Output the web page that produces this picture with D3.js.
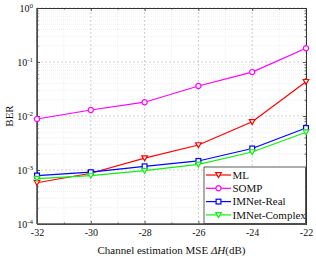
<!DOCTYPE html>
<html><head><meta charset="utf-8">
<script src="https://cdn.jsdelivr.net/npm/d3@7"></script>
<style>body{margin:0;background:#fff}svg{display:block}text{font-family:"Liberation Serif","Times New Roman",serif}</style>
</head><body><svg id="c" width="316" height="258"></svg>
<script>
const xValues = [-32, -30, -28, -26, -24, -22];
const ml = [5.8e-4, 8.7e-4, 1.66e-3, 2.9e-3, 7.8e-3, 4.3e-2];
const somp = [8.8e-3, 1.29e-2, 1.8e-2, 3.6e-2, 6.5e-2, 0.18];
const imnetReal = [7.9e-4, 9.1e-4, 1.17e-3, 1.47e-3, 2.5e-3, 6.0e-3];
const imnetComplex = [6.9e-4, 7.9e-4, 9.7e-4, 1.27e-3, 2.15e-3, 5.0e-3];
const seriesNames = ["ML", "SOMP", "IMNet-Real", "IMNet-Complex"];
const seriesColors = ["#ff0000", "#ff00ff", "#0000ff", "#11ee11"];
const seriesMarkers = ["tri", "circle", "square", "tri"];
const xTicks = [-32, -30, -28, -26, -24, -22];
const yExps = [-4, -3, -2, -1, 0];

const svg = d3.select("#c");
const L = 37, R = 306, T = 8, B = 224;
const x = d3.scaleLinear().domain([-32, -22]).range([L, R]);
const y = d3.scaleLog().domain([1e-4, 1]).range([B, T]);

// minor grid
const minorY = [];
yExps.slice(0, -1).forEach(e => { for (let k = 2; k <= 9; k++) minorY.push(k * Math.pow(10, e)); });
const minorX = [-31, -29, -27, -25, -23];
const g = svg.append("g");
g.selectAll(".mgy").data(minorY).join("line").attr("x1", L).attr("x2", R)
  .attr("y1", d => y(d)).attr("y2", d => y(d)).attr("stroke", "#e4e4e4").attr("stroke-width", 0.6).attr("stroke-dasharray", "1,1");
g.selectAll(".mgx").data(minorX).join("line").attr("y1", T).attr("y2", B)
  .attr("x1", d => x(d)).attr("x2", d => x(d)).attr("stroke", "#e4e4e4").attr("stroke-width", 0.6).attr("stroke-dasharray", "1,1");
// major grid
g.selectAll(".gy").data(yExps).join("line").attr("x1", L).attr("x2", R)
  .attr("y1", d => y(Math.pow(10, d))).attr("y2", d => y(Math.pow(10, d))).attr("stroke", "#bbb").attr("stroke-width", 0.7).attr("stroke-dasharray", "2,2");
g.selectAll(".gx").data(xTicks).join("line").attr("y1", T).attr("y2", B)
  .attr("x1", d => x(d)).attr("x2", d => x(d)).attr("stroke", "#bbb").attr("stroke-width", 0.7).attr("stroke-dasharray", "2,2");

// axes with inward ticks
const axCol = "#333";
const ax = svg.append("g");
const xb = d3.axisBottom(x).tickValues(xTicks).tickSize(-3).tickFormat(d => d);
const xt = d3.axisTop(x).tickValues(xTicks).tickSize(-3).tickFormat("");
const yl = d3.axisLeft(y).tickValues(yExps.map(e => Math.pow(10, e))).tickSize(-3).tickFormat("");
const yr = d3.axisRight(y).tickValues(yExps.map(e => Math.pow(10, e))).tickSize(-3).tickFormat("");
ax.append("g").attr("transform", `translate(0,${B})`).call(xb);
ax.append("g").attr("transform", `translate(0,${T})`).call(xt);
ax.append("g").attr("transform", `translate(${L},0)`).call(yl);
ax.append("g").attr("transform", `translate(${R},0)`).call(yr);
// minor ticks
ax.append("g").attr("transform", `translate(${L},0)`).call(d3.axisLeft(y).tickValues(minorY).tickSize(-1.5).tickFormat(""));
ax.append("g").attr("transform", `translate(${R},0)`).call(d3.axisRight(y).tickValues(minorY).tickSize(-1.5).tickFormat(""));
ax.append("g").attr("transform", `translate(0,${B})`).call(d3.axisBottom(x).tickValues(minorX).tickSize(-1.5).tickFormat(""));
ax.append("g").attr("transform", `translate(0,${T})`).call(d3.axisTop(x).tickValues(minorX).tickSize(-1.5).tickFormat(""));
ax.selectAll("path.domain").attr("stroke", axCol).attr("stroke-width", 1);
ax.selectAll(".tick line").attr("stroke", axCol).attr("stroke-width", 0.8);
ax.selectAll(".tick text").attr("font-family", "Liberation Serif").attr("font-size", 10).attr("fill", "#111").attr("dy", "0.9em");
// thicker left & bottom
svg.append("line").attr("x1", L).attr("x2", L).attr("y1", T).attr("y2", B).attr("stroke", "#555").attr("stroke-width", 1.6);
svg.append("line").attr("x1", L).attr("x2", R).attr("y1", B).attr("y2", B).attr("stroke", "#555").attr("stroke-width", 1.6);

// y tick labels 10^e
const ylab = svg.append("g");
yExps.forEach(e => {
  const t = ylab.append("text").attr("x", 33).attr("y", y(Math.pow(10, e)) + 3.5)
    .attr("text-anchor", "end").attr("font-size", 10).attr("fill", "#111");
  t.append("tspan").text("10");
  t.append("tspan").attr("dy", -4).attr("font-size", 7).text(e === 0 ? "0" : "-" + Math.abs(e));
});

// series
const data = [ml, somp, imnetReal, imnetComplex];
function marker(sel, type, color) {
  if (type === "tri") {
    sel.append("path").attr("d", "M-2.8,-2.3L2.8,-2.3L0,2.6Z");
  } else if (type === "circle") {
    sel.append("circle").attr("r", 2.6);
  } else {
    sel.append("rect").attr("x", -2.4).attr("y", -2.4).attr("width", 4.8).attr("height", 4.8);
  }
  sel.selectAll("*").attr("fill", "#fff").attr("stroke", color).attr("stroke-width", 1.2);
}
const line = d3.line().x((d, i) => x(xValues[i])).y(d => y(d));
data.forEach((vals, si) => {
  const gg = svg.append("g");
  gg.append("path").datum(vals).attr("d", line).attr("fill", "none")
    .attr("stroke", seriesColors[si]).attr("stroke-width", 1.2);
  vals.forEach((v, i) => {
    const m = gg.append("g").attr("transform", `translate(${x(xValues[i])},${y(v)})`);
    marker(m, seriesMarkers[si], seriesColors[si]);
  });
});

// legend
const lg = svg.append("g");
lg.append("rect").attr("x", 204).attr("y", 167).attr("width", 101.5).attr("height", 56.5)
  .attr("fill", "#fff").attr("stroke", "#333").attr("stroke-width", 0.8);
seriesNames.forEach((n, i) => {
  const yy = 175 + i * 13.3;
  lg.append("line").attr("x1", 206).attr("x2", 231).attr("y1", yy).attr("y2", yy)
    .attr("stroke", seriesColors[i]).attr("stroke-width", 1.2);
  const m = lg.append("g").attr("transform", `translate(218.5,${yy})`);
  marker(m, seriesMarkers[i], seriesColors[i]);
  lg.append("text").attr("x", 232.5).attr("y", yy + 3.8).attr("font-size", 11).attr("fill", "#111").text(n);
});

// axis labels
svg.append("text").attr("transform", `translate(13,${(T + B) / 2}) rotate(-90)`)
  .attr("text-anchor", "middle").attr("font-size", 11).attr("fill", "#111").text("BER");
const xl = svg.append("text").attr("x", (L + R) / 2).attr("y", 254).attr("text-anchor", "middle")
  .attr("font-size", 11).attr("fill", "#111");
xl.append("tspan").text("Channel estimation MSE ");
xl.append("tspan").attr("font-style", "italic").text("ΔH");
xl.append("tspan").text("(dB)");
</script></body></html>
